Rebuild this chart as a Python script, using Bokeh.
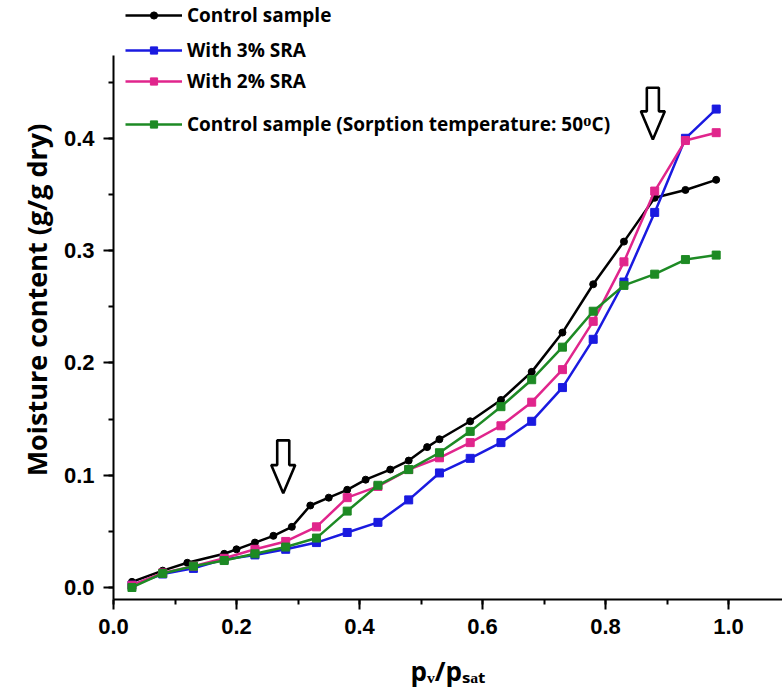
from bokeh.plotting import figure
from bokeh.models import (Range1d, SingleIntervalTicker, NumeralTickFormatter,
                          Legend, LegendItem)
from bokeh.embed import file_html
from bokeh.resources import INLINE

# ---------------- data ----------------
x_ctrl = [0.03, 0.08, 0.12, 0.18, 0.20, 0.23, 0.26, 0.29, 0.32, 0.35, 0.38, 0.41, 0.45,
          0.48, 0.51, 0.53, 0.58, 0.63, 0.68, 0.73, 0.78, 0.83, 0.88, 0.93, 0.98]
y_ctrl = [0.005, 0.015, 0.022, 0.030, 0.034, 0.040, 0.046, 0.054, 0.073, 0.080, 0.087, 0.096, 0.105,
          0.113, 0.125, 0.132, 0.148, 0.167, 0.192, 0.227, 0.270, 0.308, 0.347, 0.354, 0.363]

x_sra = [0.03, 0.08, 0.13, 0.18, 0.23, 0.28, 0.33, 0.38, 0.43, 0.48,
         0.53, 0.58, 0.63, 0.68, 0.73, 0.78, 0.83, 0.88, 0.93, 0.98]
y_sra3 = [0.002, 0.012, 0.017, 0.025, 0.029, 0.034, 0.040, 0.049, 0.058, 0.078,
          0.102, 0.115, 0.129, 0.148, 0.178, 0.221, 0.272, 0.334, 0.400, 0.426]
y_sra2 = [0.002, 0.013, 0.019, 0.026, 0.034, 0.041, 0.054, 0.080, 0.090, 0.105,
          0.1155, 0.129, 0.144, 0.165, 0.194, 0.237, 0.290, 0.353, 0.398, 0.405]
y_ctrl50 = [0.000, 0.0125, 0.019, 0.024, 0.030, 0.036, 0.044, 0.068, 0.091, 0.105,
            0.120, 0.139, 0.161, 0.185, 0.214, 0.246, 0.269, 0.279, 0.292, 0.296]

labels = ["Control sample", "With 3% SRA", "With 2% SRA",
          "Control sample (Sorption temperature: 50\u1d3cC)"]
colors = ["#000000", "#1a1ae0", "#e0258c", "#1d8a24"]

x_title = "p\u1d65/p\u209b\u2090\u209c"
y_title = "Moisture content (g/g dry)"

# arrows (data positions)
arrow_x = [0.276, 0.877]
arrow_top = [0.131, 0.445]
arrow_tip = [0.084, 0.399]

# ---------------- figure ----------------
y_lo, y_axis_hi, y_frame_hi = -0.0107, 0.4737, 0.5227
p = figure(width=782, height=694, output_backend="svg", toolbar_location=None,
           x_range=Range1d(0, 1.0878), y_range=Range1d(y_lo, y_frame_hi),
           min_border_left=113, min_border_right=0, min_border_top=0, min_border_bottom=95)
p.outline_line_color = None
p.xgrid.visible = False
p.ygrid.visible = False
p.background_fill_color = "white"
p.border_fill_color = "white"

for ax, iv in ((p.xaxis[0], 0.2), (p.yaxis[0], 0.1)):
    ax.ticker = SingleIntervalTicker(interval=iv, num_minor_ticks=2)
    ax.formatter = NumeralTickFormatter(format="0.0")
    ax.axis_line_width = 2
    ax.axis_line_color = "black"
    ax.major_tick_line_width = 2
    ax.minor_tick_line_width = 2
    ax.major_tick_out = 10
    ax.major_tick_in = 0
    ax.minor_tick_out = 5
    ax.minor_tick_in = 0
    ax.major_label_text_font = "Liberation Sans"
    ax.major_label_text_font_style = "bold"
    ax.major_label_text_font_size = "22px"
    ax.major_label_text_color = "black"
    ax.major_label_standoff = 9
    ax.axis_label_text_font = "Open Sans"
    ax.axis_label_text_font_style = "bold"
    ax.axis_label_text_color = "black"

p.yaxis.bounds = (y_lo, y_axis_hi)
p.yaxis.axis_label = y_title
p.yaxis.axis_label_text_font_size = "27px"
p.yaxis.axis_label_standoff = 6
p.xaxis.axis_label = x_title
p.xaxis.axis_label_text_font_size = "26px"
p.xaxis.axis_label_standoff = 16

# series
r_ctrl_l = p.line(x_ctrl, y_ctrl, line_color=colors[0], line_width=2.5)
r_ctrl_m = p.scatter(x_ctrl, y_ctrl, marker="circle", size=7, fill_color=colors[0], line_color=colors[0])
r_s3_l = p.line(x_sra, y_sra3, line_color=colors[1], line_width=2.5)
r_s3_m = p.scatter(x_sra, y_sra3, marker="square", size=8, fill_color=colors[1], line_color=colors[1])
r_s2_l = p.line(x_sra, y_sra2, line_color=colors[2], line_width=2.5)
r_s2_m = p.scatter(x_sra, y_sra2, marker="square", size=8, fill_color=colors[2], line_color=colors[2])
r_c50_l = p.line(x_sra, y_ctrl50, line_color=colors[3], line_width=2.5)
r_c50_m = p.scatter(x_sra, y_ctrl50, marker="square", size=8, fill_color=colors[3], line_color=colors[3])

# block arrows
hw, hh, head = 0.0098, 0.0195, 0.025
xs, ys = [], []
for ax_, top, tip in zip(arrow_x, arrow_top, arrow_tip):
    xs.append([ax_ - hw, ax_ + hw, ax_ + hw, ax_ + hh, ax_, ax_ - hh, ax_ - hw])
    ys.append([top, top, tip + head, tip + head, tip, tip + head, tip + head])
p.patches(xs, ys, fill_color="white", line_color="black", line_width=2.6)

# legends (one per entry, irregular spacing as in the reference)
rends = [[r_ctrl_l, r_ctrl_m], [r_s3_l, r_s3_m], [r_s2_l, r_s2_m], [r_c50_l, r_c50_m]]
leg_y = [571, 536, 505, 462]
for lab, rr, vy in zip(labels, rends, leg_y):
    leg = Legend(items=[LegendItem(label=lab, renderers=rr)], location=(12, vy),
                 padding=0, margin=0, spacing=0, glyph_width=57, glyph_height=18,
                 label_height=24, label_standoff=5,
                 label_text_font="Open Sans", label_text_font_style="bold",
                 label_text_font_size="19px", label_text_color="black",
                 background_fill_alpha=0, border_line_alpha=0)
    p.add_layout(leg)

open("out.html", "w").write(file_html(p, INLINE))
